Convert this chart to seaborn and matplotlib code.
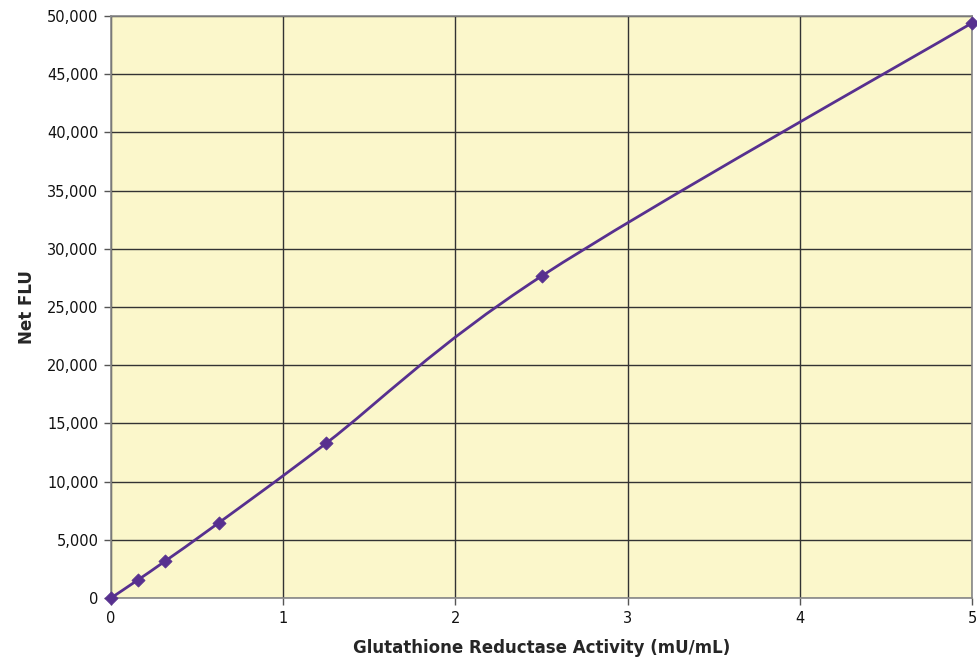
import matplotlib
matplotlib.use("Agg")
import matplotlib.pyplot as plt
import seaborn as sns
import numpy as np
import pandas as pd
from matplotlib.path import Path
from matplotlib.patches import PathPatch
from matplotlib.ticker import FuncFormatter

# values
activity = [0, 0.156, 0.3125, 0.625, 1.25, 2.5, 5.0]
net_flu = [0, 1550, 3150, 6450, 13300, 27650, 49400]
x_ticks = [0, 1, 2, 3, 4, 5]
y_ticks = [0, 5000, 10000, 15000, 20000, 25000, 30000, 35000, 40000, 45000, 50000]

df = pd.DataFrame({"activity": activity, "net_flu": net_flu})

purple = "#57308F"
sns.set_style("white")
plt.rcParams["font.family"] = ["DejaVu Sans"]

fig = plt.figure(figsize=(9.77, 6.61), dpi=100)
ax = fig.add_axes([0.1136, 0.0953, 0.8813, 0.8805])
ax.set_facecolor("#FBF7CB")

# smoothed line (Excel-style Catmull-Rom bezier)
pts = df[["activity", "net_flu"]].to_numpy(dtype=float)
verts = [tuple(pts[0])]
codes = [Path.MOVETO]
for i in range(len(pts) - 1):
    p0 = pts[i - 1] if i > 0 else pts[i]
    p1, p2 = pts[i], pts[i + 1]
    p3 = pts[i + 2] if i + 2 < len(pts) else pts[i + 1]
    c1 = p1 + (p2 - p0) / 6
    c2 = p2 - (p3 - p1) / 6
    verts += [tuple(c1), tuple(c2), tuple(p2)]
    codes += [Path.CURVE4] * 3
ax.add_patch(PathPatch(Path(verts, codes), facecolor="none", edgecolor=purple, lw=2, zorder=3))

sns.scatterplot(data=df, x="activity", y="net_flu", marker="D", s=45, color=purple,
                edgecolor=purple, ax=ax, zorder=4, clip_on=False)

ax.set_xlim(0, 5)
ax.set_ylim(0, 50000)
ax.set_xticks(x_ticks)
ax.set_yticks(y_ticks)
ax.yaxis.set_major_formatter(FuncFormatter(lambda v, p: f"{int(v):,}"))
ax.grid(True, color="#333333", lw=1)
ax.set_axisbelow(True)
for s in ax.spines.values():
    s.set_color("#888888")
    s.set_linewidth(1.2)
ax.tick_params(axis="both", direction="out", length=5, width=1, color="#555555",
               labelsize=10.5, labelcolor="#111111", pad=4)
ax.tick_params(axis="y", left=True)
ax.tick_params(axis="x", bottom=True)

ax.set_xlabel("Glutathione Reductase Activity (mU/mL)", fontsize=12, fontweight="bold", labelpad=10)
ax.set_ylabel("Net FLU", fontsize=12, fontweight="bold", labelpad=8)

fig.savefig("out.png", dpi=100)
